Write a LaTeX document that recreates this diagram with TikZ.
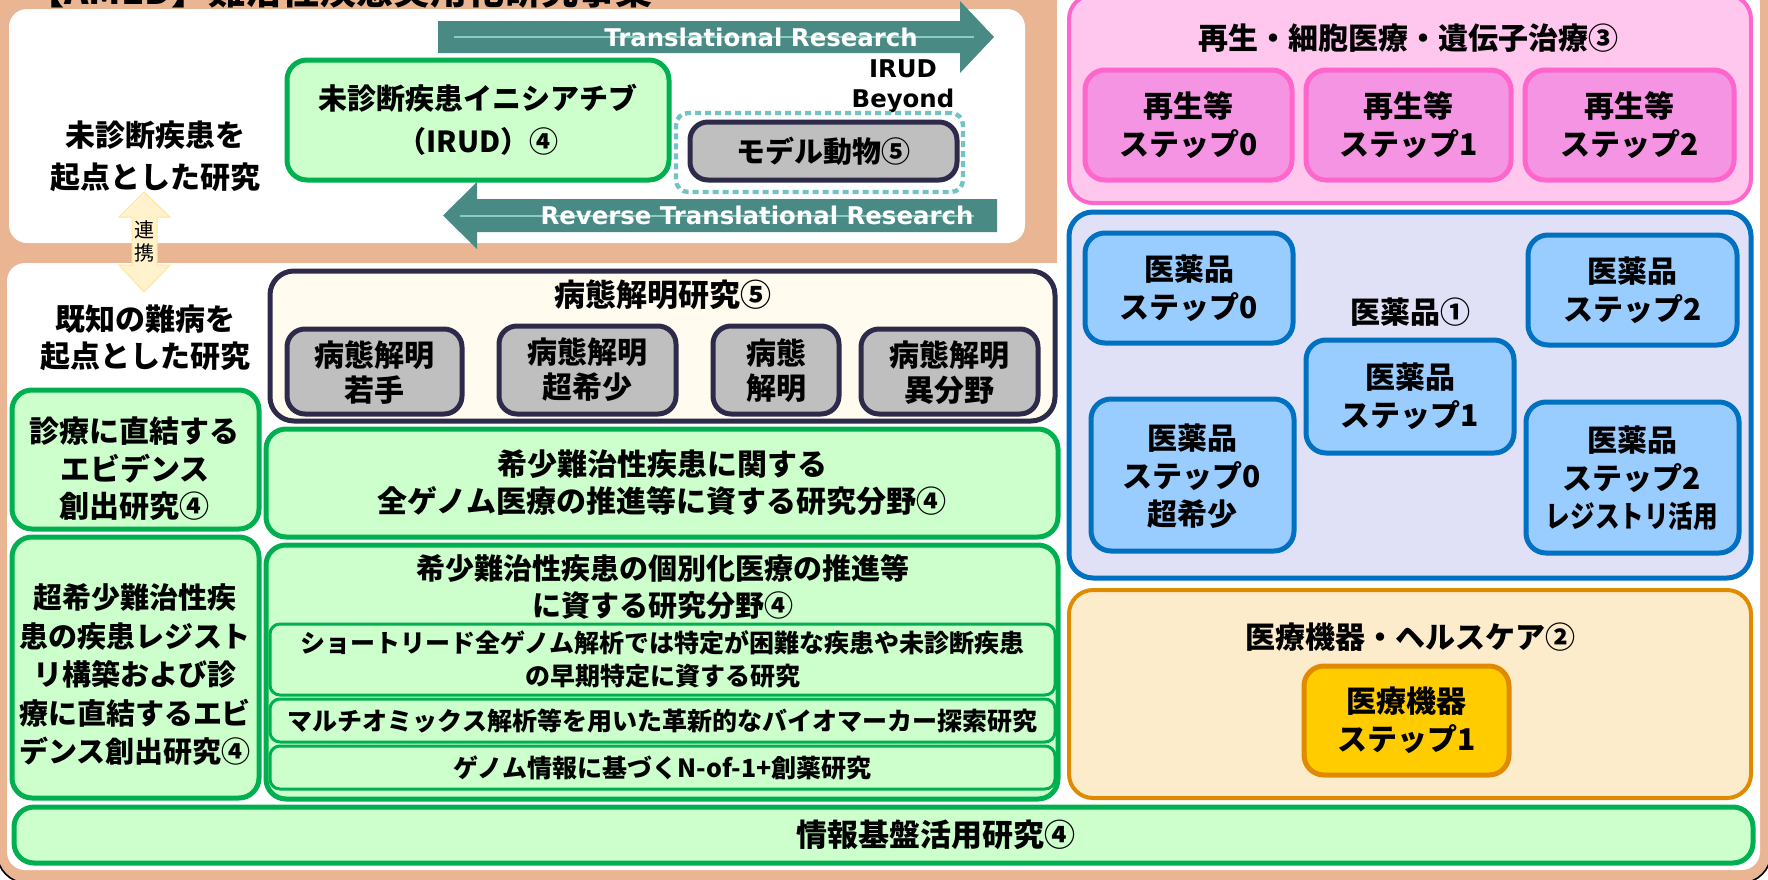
\documentclass[tikz,border=0pt]{standalone}
\usepackage{fontspec}
\setmainfont{Noto Sans CJK JP}
\newfontfamily\latinb{DejaVu Sans}
\usetikzlibrary{fit}
\definecolor{salmon}{HTML}{EAB592}
\definecolor{teal1}{HTML}{4A8A85}
\definecolor{teal2}{HTML}{8ACBC4}
\definecolor{gbd}{HTML}{00B050}
\definecolor{gfl}{HTML}{CCFFCC}
\definecolor{navy}{HTML}{2E2A4A}
\definecolor{grayf}{HTML}{BFBFBF}
\definecolor{cream}{HTML}{FFFCEF}
\definecolor{pkbd}{HTML}{FF66CC}
\definecolor{pkoutc}{HTML}{FFC7EE}
\definecolor{pkinc}{HTML}{F594E2}
\definecolor{blbd}{HTML}{0070C0}
\definecolor{bloutc}{HTML}{E0E0F7}
\definecolor{blinc}{HTML}{99CCFF}
\definecolor{orbd}{HTML}{E08A00}
\definecolor{oroutc}{HTML}{FDECCB}
\definecolor{orinc}{HTML}{FFCC00}
\definecolor{dotc}{HTML}{72C3C3}
\definecolor{yel}{HTML}{FFF2CC}
\definecolor{yelbd}{HTML}{FFE699}
\begin{document}
\begin{tikzpicture}[x=0.5pt,y=-0.5pt,
  tj/.style={font=\bfseries\fontsize{15pt}{#1}\selectfont, align=center, inner sep=0pt},
  tj/.default=19pt,
  ts/.style={font=\bfseries\fontsize{12.5pt}{#1}\selectfont, align=center, inner sep=0pt},
  ts/.default=16.5pt,
  tl/.style={text=white, font=\latinb\bfseries\fontsize{12.2pt}{15pt}\selectfont, inner sep=0pt},
  bx/.style={fit={#1}, inner sep=0pt, rounded corners=10pt, line width=2.5pt},
  gbox/.style={bx={#1}, draw=gbd, fill=gfl},
  sbox/.style={fit={#1}, inner sep=0pt, rounded corners=5pt, line width=1.5pt, draw=gbd, fill=gfl},
  navbox/.style={bx={#1}, draw=navy, fill=cream, rounded corners=12pt},
  graybox/.style={bx={#1}, draw=navy, fill=grayf, rounded corners=9pt},
  pkoutb/.style={bx={#1}, draw=pkbd, fill=pkoutc, line width=2pt, rounded corners=12pt},
  pkinb/.style={bx={#1}, draw=pkbd, fill=pkinc},
  bloutb/.style={bx={#1}, draw=blbd, fill=bloutc, rounded corners=12pt},
  blinb/.style={bx={#1}, draw=blbd, fill=blinc},
  oroutb/.style={bx={#1}, draw=orbd, fill=oroutc, line width=2pt, rounded corners=12pt},
  orinb/.style={bx={#1}, draw=orbd, fill=orinc},
  arrowline/.style={teal2, line width=1pt}
]
\useasboundingbox (0,0) rectangle (1768,879);
\fill[white] (0,0) rectangle (1768,879);
\begin{scope}
\clip (0,0) rectangle (1768,879);
\filldraw[fill=salmon, draw=black, line width=0.8pt, rounded corners=15pt] (-3,-60) rectangle (1771,883);
\end{scope}
% white panels
\fill[white, rounded corners=9pt] (9,9) rectangle (1025,243);
\fill[white, rounded corners=9pt] (7,263) rectangle (1760,870);
\fill[white] (1057,0) rectangle (1760,300);

% title (cut off at the top, as in the original)
\node[anchor=base west, inner sep=0pt, font=\bfseries\fontsize{18.5pt}{20pt}\selectfont] (title) at (27,4) {【AMED】難治性疾患実用化研究事業};

% translational arrows
\fill[teal1] (438,21) -- (960,21) -- (960,1) -- (994,37) -- (960,73) -- (960,53) -- (438,53) -- cycle;
\coordinate (tra) at (454,37);
\coordinate (trb) at (974,37);
\draw[arrowline] (tra) -- (trb);
\node[tl] (tr) at (761,37) {Translational Research};

\fill[teal1] (997,199) -- (477,199) -- (477,182) -- (443,215.5) -- (477,249) -- (477,232) -- (997,232) -- cycle;
\coordinate (rva) at (460,215.5);
\coordinate (rvb) at (974,215.5);
\draw[arrowline] (rva) -- (rvb);
\node[tl] (rtr) at (757,215.5) {Reverse Translational Research};

\node[tl, text=black, align=center] (beyond) at (903,86) {IRUD\\Beyond};

% IRUD box and model animals
\node[gbox={(287,60)(669,180)}] (irud) {};
\node[tj, font=\bfseries\fontsize{14.5pt}{21.5pt}\selectfont] (irudT) at (irud) {未診断疾患イニシアチブ\\（IRUD）④};
\node[fit={(676,113)(963,192)}, inner sep=0pt, draw=dotc, line width=2.2pt, dash pattern=on 3pt off 2pt, rounded corners=6pt] (dotf) {};
\node[graybox={(690,122)(957,180)}] (model) {};
\node[tj, font=\bfseries\fontsize{14.5pt}{19pt}\selectfont] (modelT) at (model) {モデル動物⑤};

% left labels
\node[tj=21pt] (undiag) at (155,156) {未診断疾患を\\起点とした研究};
\node[tj=18.5pt] (known) at (145,338) {既知の難病を\\起点とした研究};

% renkei double arrow
\filldraw[fill=yel, draw=yelbd, line width=0.5pt] (144,192) -- (170,217) -- (157,217) -- (157,265) -- (170,265) -- (144,292) -- (119,265) -- (132,265) -- (132,217) -- (119,217) -- cycle;
\node[font=\fontsize{10pt}{11.5pt}\selectfont, align=center, inner sep=0pt] (renkei) at (144,241.5) {連\\携};

% pathology research
\node[navbox={(270,271)(1055,421)}] (byotai) {};
\node[tj, font=\bfseries\fontsize{15.5pt}{19pt}\selectfont] (byotaiT) at (663,295) {病態解明研究⑤};
\node[graybox={(287,329)(462,414)}] (g1) {};
\node[graybox={(499,326)(676,414)}] (g2) {};
\node[graybox={(713,326)(839,414)}] (g3) {};
\node[graybox={(861,329)(1038,414)}] (g4) {};
\node[tj=17.5pt] (g1T) at (374.5,372.5) {病態解明\\若手};
\node[tj=17.5pt] (g2T) at (587.5,370) {病態解明\\超希少};
\node[tj=17.5pt] (g3T) at (776,371) {病態\\解明};
\node[tj=17.5pt] (g4T) at (949.5,372.5) {病態解明\\異分野};

% left column
\node[gbox={(12,390)(259,529)}] (shinryo) {};
\node[tj=18.75pt] (shinryoT) at (135,469) {診療に直結する\\エビデンス\\創出研究④};
\node[gbox={(12,537)(259,798)}] (regist) {};
\node[tj, font=\bfseries\fontsize{14.5pt}{19.25pt}\selectfont] (registT) at (135,675) {超希少難治性疾\\患の疾患レジスト\\リ構築および診\\療に直結するエビ\\デンス創出研究④};

% middle column
\node[gbox={(266,429)(1058,537)}] (genome) {};
\node[tj=18.5pt] (genomeT) at (genome) {希少難治性疾患に関する\\全ゲノム医療の推進等に資する研究分野④};
\node[gbox={(266,545)(1058,799)}] (indiv) {};
\node[tj, font=\bfseries\fontsize{14.5pt}{18.5pt}\selectfont] (indivT) at (663,586.5) {希少難治性疾患の個別化医療の推進等\\に資する研究分野④};
\node[sbox={(270,624)(1055,695)}] (subA) {};
\node[ts] (subAT) at (subA) {ショートリード全ゲノム解析では特定が困難な疾患や未診断疾患\\の早期特定に資する研究};
\node[sbox={(270,699)(1055,742)}] (subB) {};
\node[ts] (subBT) at (subB) {マルチオミックス解析等を用いた革新的なバイオマーカー探索研究};
\node[sbox={(270,746)(1055,789)}] (subC) {};
\node[ts] (subCT) at (subC) {ゲノム情報に基づくN-of-1+創薬研究};

% bottom bar
\node[gbox={(14,807)(1753,863)}] (info) {};
\node[tj, font=\bfseries\fontsize{15.5pt}{19pt}\selectfont] (infoT) at (936,835) {情報基盤活用研究④};

% regenerative
\node[pkoutb={(1069,-5)(1751,203)}] (regen) {};
\node[tj] (regenT) at (1408,38) {再生・細胞医療・遺伝子治療③};
\node[pkinb={(1085,70)(1292,180)}] (rs0) {};
\node[pkinb={(1306,70)(1511,180)}] (rs1) {};
\node[pkinb={(1525,70)(1734,180)}] (rs2) {};
\node[tj] (rs0T) at (rs0) {再生等\\ステップ0};
\node[tj] (rs1T) at (rs1) {再生等\\ステップ1};
\node[tj] (rs2T) at (rs2) {再生等\\ステップ2};

% drugs
\node[bloutb={(1069,212)(1751,578)}] (drug) {};
\node[tj] (drugT) at (1410,312) {医薬品①};
\node[blinb={(1085,233)(1293,343)}] (d0) {};
\node[blinb={(1528,235)(1737,345)}] (d2) {};
\node[blinb={(1306,340)(1514,453)}] (d1) {};
\node[blinb={(1091,399)(1294,551)}] (d0s) {};
\node[blinb={(1526,402)(1739,553)}] (d2r) {};
\node[tj] (d0T) at (d0) {医薬品\\ステップ0};
\node[tj] (d2T) at (d2) {医薬品\\ステップ2};
\node[tj] (d1T) at (d1) {医薬品\\ステップ1};
\node[tj] (d0sT) at (1192,476) {医薬品\\ステップ0\\超希少};
\node[tj] (d2rT) at (1632,478) {医薬品\\ステップ2\\\scalebox{0.82}[1]{レジストリ活用}};

% devices
\node[oroutb={(1069,590)(1751,798)}] (dev) {};
\node[tj] (devT) at (1410,637) {医療機器・ヘルスケア②};
\node[orinb={(1304,666)(1509,775)}] (dev1) {};
\node[tj] (dev1T) at (dev1) {医療機器\\ステップ1};
\end{tikzpicture}
\end{document}
